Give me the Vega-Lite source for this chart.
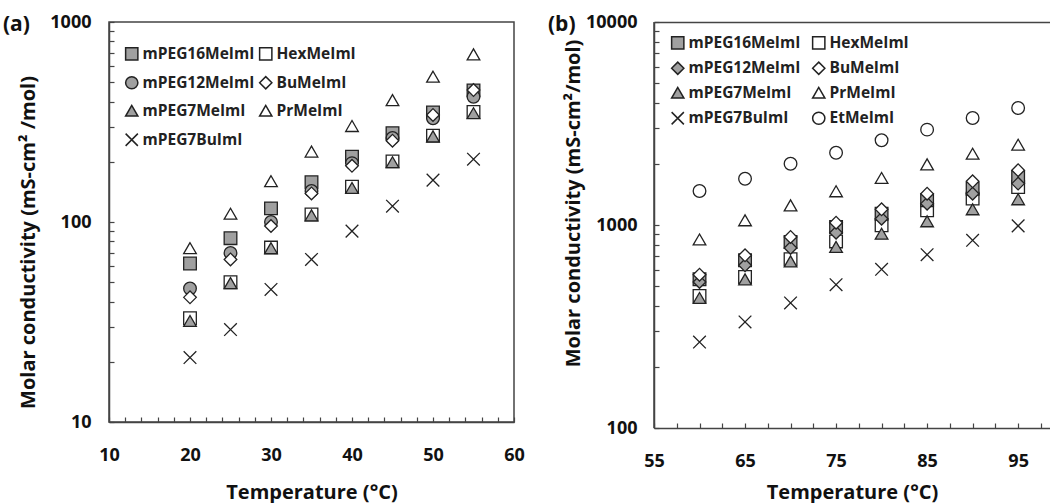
{
  "$schema": "https://vega.github.io/schema/vega-lite/v6.json",
  "padding": {"left": 2, "top": 12, "right": 0, "bottom": 0},
  "background": "white",
  "config": {
    "font": "Open Sans",
    "view": {"stroke": "#444", "strokeWidth": 1.5},
    "axis": {"labelFont": "Open Sans", "labelFontWeight": "bold", "labelFontSize": 18, "labelColor": "#111", "titleFont": "Open Sans", "titleFontWeight": "bold", "titleFontSize": 20, "titleColor": "#111", "domainColor": "#444", "domainWidth": 1.5, "tickColor": "#444", "tickWidth": 1.2, "tickSize": -5, "grid": false, "labelOverlap": false, "labelFlush": false},
    "legend": {"labelFont": "Open Sans", "labelFontWeight": "bold", "labelFontSize": 15.5, "labelColor": "#222"},
    "title": {"font": "Open Sans", "fontWeight": "bold", "fontSize": 21, "color": "#111"}
  },
  "datasets": {
    "a": [
      {"s": "HexMeImI", "T": 20, "v": 33}, {"s": "HexMeImI", "T": 25, "v": 50}, {"s": "HexMeImI", "T": 30, "v": 74.5}, {"s": "HexMeImI", "T": 35, "v": 109}, {"s": "HexMeImI", "T": 40, "v": 150}, {"s": "HexMeImI", "T": 45, "v": 201}, {"s": "HexMeImI", "T": 50, "v": 270}, {"s": "HexMeImI", "T": 55, "v": 355},
      {"s": "mPEG16MeImI", "T": 20, "v": 62}, {"s": "mPEG16MeImI", "T": 25, "v": 83}, {"s": "mPEG16MeImI", "T": 30, "v": 117}, {"s": "mPEG16MeImI", "T": 35, "v": 158}, {"s": "mPEG16MeImI", "T": 40, "v": 212}, {"s": "mPEG16MeImI", "T": 45, "v": 278}, {"s": "mPEG16MeImI", "T": 50, "v": 353}, {"s": "mPEG16MeImI", "T": 55, "v": 455},
      {"s": "mPEG12MeImI", "T": 20, "v": 46.5}, {"s": "mPEG12MeImI", "T": 25, "v": 70}, {"s": "mPEG12MeImI", "T": 30, "v": 100}, {"s": "mPEG12MeImI", "T": 35, "v": 143}, {"s": "mPEG12MeImI", "T": 40, "v": 197}, {"s": "mPEG12MeImI", "T": 45, "v": 263}, {"s": "mPEG12MeImI", "T": 50, "v": 330}, {"s": "mPEG12MeImI", "T": 55, "v": 423},
      {"s": "BuMeImI", "T": 20, "v": 42}, {"s": "BuMeImI", "T": 25, "v": 65}, {"s": "BuMeImI", "T": 30, "v": 95.5}, {"s": "BuMeImI", "T": 35, "v": 139}, {"s": "BuMeImI", "T": 40, "v": 191}, {"s": "BuMeImI", "T": 45, "v": 255}, {"s": "BuMeImI", "T": 50, "v": 343}, {"s": "BuMeImI", "T": 55, "v": 457},
      {"s": "mPEG7MeImI", "T": 20, "v": 32}, {"s": "mPEG7MeImI", "T": 25, "v": 49.5}, {"s": "mPEG7MeImI", "T": 30, "v": 74}, {"s": "mPEG7MeImI", "T": 35, "v": 108}, {"s": "mPEG7MeImI", "T": 40, "v": 148}, {"s": "mPEG7MeImI", "T": 45, "v": 199}, {"s": "mPEG7MeImI", "T": 50, "v": 268}, {"s": "mPEG7MeImI", "T": 55, "v": 350},
      {"s": "PrMeImI", "T": 20, "v": 74}, {"s": "PrMeImI", "T": 25, "v": 110}, {"s": "PrMeImI", "T": 30, "v": 160}, {"s": "PrMeImI", "T": 35, "v": 225}, {"s": "PrMeImI", "T": 40, "v": 302}, {"s": "PrMeImI", "T": 45, "v": 407}, {"s": "PrMeImI", "T": 50, "v": 533}, {"s": "PrMeImI", "T": 55, "v": 689},
      {"s": "mPEG7BuImI", "T": 20, "v": 21}, {"s": "mPEG7BuImI", "T": 25, "v": 29}, {"s": "mPEG7BuImI", "T": 30, "v": 46}, {"s": "mPEG7BuImI", "T": 35, "v": 65}, {"s": "mPEG7BuImI", "T": 40, "v": 90}, {"s": "mPEG7BuImI", "T": 45, "v": 120}, {"s": "mPEG7BuImI", "T": 50, "v": 162}, {"s": "mPEG7BuImI", "T": 55, "v": 206}
    ],
    "b": [
      {"s": "HexMeImI", "T": 60, "v": 447}, {"s": "HexMeImI", "T": 65, "v": 555}, {"s": "HexMeImI", "T": 70, "v": 678}, {"s": "HexMeImI", "T": 75, "v": 830}, {"s": "HexMeImI", "T": 80, "v": 996}, {"s": "HexMeImI", "T": 85, "v": 1181}, {"s": "HexMeImI", "T": 90, "v": 1349}, {"s": "HexMeImI", "T": 95, "v": 1538},
      {"s": "mPEG16MeImI", "T": 60, "v": 540}, {"s": "mPEG16MeImI", "T": 65, "v": 670}, {"s": "mPEG16MeImI", "T": 70, "v": 825}, {"s": "mPEG16MeImI", "T": 75, "v": 977}, {"s": "mPEG16MeImI", "T": 80, "v": 1137}, {"s": "mPEG16MeImI", "T": 85, "v": 1324}, {"s": "mPEG16MeImI", "T": 90, "v": 1510}, {"s": "mPEG16MeImI", "T": 95, "v": 1722},
      {"s": "mPEG12MeImI", "T": 60, "v": 524}, {"s": "mPEG12MeImI", "T": 65, "v": 633}, {"s": "mPEG12MeImI", "T": 70, "v": 771}, {"s": "mPEG12MeImI", "T": 75, "v": 916}, {"s": "mPEG12MeImI", "T": 80, "v": 1074}, {"s": "mPEG12MeImI", "T": 85, "v": 1274}, {"s": "mPEG12MeImI", "T": 90, "v": 1426}, {"s": "mPEG12MeImI", "T": 95, "v": 1599},
      {"s": "BuMeImI", "T": 60, "v": 569}, {"s": "BuMeImI", "T": 65, "v": 709}, {"s": "BuMeImI", "T": 70, "v": 873}, {"s": "BuMeImI", "T": 75, "v": 1026}, {"s": "BuMeImI", "T": 80, "v": 1195}, {"s": "BuMeImI", "T": 85, "v": 1426}, {"s": "BuMeImI", "T": 90, "v": 1641}, {"s": "BuMeImI", "T": 95, "v": 1862},
      {"s": "mPEG7MeImI", "T": 60, "v": 437}, {"s": "mPEG7MeImI", "T": 65, "v": 540}, {"s": "mPEG7MeImI", "T": 70, "v": 662}, {"s": "mPEG7MeImI", "T": 75, "v": 780}, {"s": "mPEG7MeImI", "T": 80, "v": 906}, {"s": "mPEG7MeImI", "T": 85, "v": 1043}, {"s": "mPEG7MeImI", "T": 90, "v": 1195}, {"s": "mPEG7MeImI", "T": 95, "v": 1339},
      {"s": "PrMeImI", "T": 60, "v": 849}, {"s": "PrMeImI", "T": 65, "v": 1055}, {"s": "PrMeImI", "T": 70, "v": 1250}, {"s": "PrMeImI", "T": 75, "v": 1466}, {"s": "PrMeImI", "T": 80, "v": 1705}, {"s": "PrMeImI", "T": 85, "v": 1990}, {"s": "PrMeImI", "T": 90, "v": 2245}, {"s": "PrMeImI", "T": 95, "v": 2487},
      {"s": "mPEG7BuImI", "T": 60, "v": 265}, {"s": "mPEG7BuImI", "T": 65, "v": 333}, {"s": "mPEG7BuImI", "T": 70, "v": 413}, {"s": "mPEG7BuImI", "T": 75, "v": 508}, {"s": "mPEG7BuImI", "T": 80, "v": 605}, {"s": "mPEG7BuImI", "T": 85, "v": 714}, {"s": "mPEG7BuImI", "T": 90, "v": 841}, {"s": "mPEG7BuImI", "T": 95, "v": 990},
      {"s": "EtMeImI", "T": 60, "v": 1470}, {"s": "EtMeImI", "T": 65, "v": 1690}, {"s": "EtMeImI", "T": 70, "v": 2004}, {"s": "EtMeImI", "T": 75, "v": 2270}, {"s": "EtMeImI", "T": 80, "v": 2614}, {"s": "EtMeImI", "T": 85, "v": 2950}, {"s": "EtMeImI", "T": 90, "v": 3365}, {"s": "EtMeImI", "T": 95, "v": 3770}
    ]
  },
  "resolve": {"scale": {"shape": "independent", "fill": "independent"}, "legend": {"shape": "independent", "fill": "independent"}},
  "spacing": 140,
  "bounds": "flush",
  "hconcat": [
    {
      "data": {"name": "a"},
      "width": 405,
      "height": 400,
      "title": {"text": "(a)", "anchor": "start", "frame": "group", "offset": 0, "dx": -106, "dy": 22},
      "mark": {"type": "point", "filled": true, "size": 160, "stroke": "#222", "strokeWidth": 1.3, "opacity": 1},
      "encoding": {
        "x": {"field": "T", "type": "quantitative", "scale": {"domain": [10, 60], "nice": false, "zero": false},
          "axis": {"title": "Temperature (°C)", "values": [10, 12, 14, 16, 18, 20, 22, 24, 26, 28, 30, 32, 34, 36, 38, 40, 42, 44, 46, 48, 50, 52, 54, 56, 58, 60], "labelExpr": "datum.value % 10 == 0 ? datum.label : ''", "labelPadding": 29.5, "titlePadding": 18}},
        "y": {"field": "v", "type": "quantitative", "scale": {"type": "log", "domain": [10, 1000], "nice": false},
          "axis": {"title": "Molar conductivity (mS-cm² /mol)", "values": [10, 20, 30, 40, 50, 60, 70, 80, 90, 100, 200, 300, 400, 500, 600, 700, 800, 900, 1000], "format": "d", "labelExpr": "datum.value == 10 || datum.value == 100 || datum.value == 1000 ? datum.label : ''", "labelPadding": 23, "titlePadding": 11, "titleY": 220}},
        "shape": {"field": "s", "type": "nominal",
          "scale": {"domain": ["mPEG16MeImI", "HexMeImI", "mPEG12MeImI", "BuMeImI", "mPEG7MeImI", "PrMeImI", "mPEG7BuImI"], "range": ["square", "square", "circle", "diamond", "triangle-up", "triangle-up", "M-1,-1L1,1M-1,1L1,-1"]},
          "legend": {"title": null, "orient": "none", "legendX": 15, "legendY": 24, "direction": "horizontal", "columns": 2, "rowPadding": 10, "columnPadding": 1, "symbolSize": 150, "labelOffset": 3, "encode": {"symbols": {"update": {"stroke": {"value": "#222"}, "strokeWidth": {"value": 1.3}}}}}},
        "fill": {"field": "s", "type": "nominal",
          "scale": {"domain": ["mPEG16MeImI", "HexMeImI", "mPEG12MeImI", "BuMeImI", "mPEG7MeImI", "PrMeImI", "mPEG7BuImI"], "range": ["#a0a0a0", "#ffffff", "#a0a0a0", "#ffffff", "#a0a0a0", "#ffffff", "transparent"]},
          "legend": {"title": null, "orient": "none", "legendX": 15, "legendY": 24, "direction": "horizontal", "columns": 2, "rowPadding": 10, "columnPadding": 1, "symbolSize": 150, "labelOffset": 3, "encode": {"symbols": {"update": {"stroke": {"value": "#222"}, "strokeWidth": {"value": 1.3}}}}}}
      }
    },
    {
      "data": {"name": "b"},
      "width": 396,
      "height": 406,
      "view": {"stroke": null},
      "title": {"text": "(b)", "anchor": "start", "frame": "group", "offset": 0, "dx": -106, "dy": 22},
      "resolve": {"axis": {"x": "independent"}},
      "layer": [
        {
          "mark": {"type": "point", "filled": true, "size": 160, "stroke": "#222", "strokeWidth": 1.3, "opacity": 1},
          "encoding": {
            "x": {"field": "T", "type": "quantitative", "scale": {"domain": [55, 98.5], "nice": false, "zero": false},
              "axis": {"orient": "bottom", "title": "Temperature (°C)", "values": [55, 57.5, 60, 62.5, 65, 67.5, 70, 72.5, 75, 77.5, 80, 82.5, 85, 87.5, 90, 92.5, 95, 97.5], "labelExpr": "(datum.value - 55) % 10 == 0 ? datum.label : ''", "labelPadding": 29.5, "titlePadding": 12}},
            "y": {"field": "v", "type": "quantitative", "scale": {"type": "log", "domain": [100, 10000], "nice": false},
              "axis": {"title": "Molar conductivity (mS-cm²/mol)", "values": [100, 200, 300, 400, 500, 600, 700, 800, 900, 1000, 2000, 3000, 4000, 5000, 6000, 7000, 8000, 9000, 10000], "format": "d", "labelExpr": "datum.value == 100 || datum.value == 1000 || datum.value == 10000 ? datum.label : ''", "labelPadding": 22, "titlePadding": 2, "titleY": 181}},
            "shape": {"field": "s", "type": "nominal",
              "scale": {"domain": ["mPEG16MeImI", "HexMeImI", "mPEG12MeImI", "BuMeImI", "mPEG7MeImI", "PrMeImI", "mPEG7BuImI", "EtMeImI"], "range": ["square", "square", "diamond", "diamond", "triangle-up", "triangle-up", "M-1,-1L1,1M-1,1L1,-1", "circle"]},
              "legend": {"title": null, "orient": "none", "legendX": 16, "legendY": 13, "direction": "horizontal", "columns": 2, "rowPadding": 6.5, "columnPadding": 8, "symbolSize": 150, "labelOffset": 3, "encode": {"symbols": {"update": {"stroke": {"value": "#222"}, "strokeWidth": {"value": 1.3}}}}}},
            "fill": {"field": "s", "type": "nominal",
              "scale": {"domain": ["mPEG16MeImI", "HexMeImI", "mPEG12MeImI", "BuMeImI", "mPEG7MeImI", "PrMeImI", "mPEG7BuImI", "EtMeImI"], "range": ["#a0a0a0", "#ffffff", "#a0a0a0", "#ffffff", "#a0a0a0", "#ffffff", "transparent", "#ffffff"]},
              "legend": {"title": null, "orient": "none", "legendX": 16, "legendY": 13, "direction": "horizontal", "columns": 2, "rowPadding": 6.5, "columnPadding": 8, "symbolSize": 150, "labelOffset": 3, "encode": {"symbols": {"update": {"stroke": {"value": "#222"}, "strokeWidth": {"value": 1.3}}}}}}
          }
        },
        {
          "data": {"values": [{}]},
          "mark": {"type": "rule", "color": "#444", "strokeWidth": 1.5},
          "encoding": {
            "x": {"datum": 55, "type": "quantitative", "axis": {"orient": "top", "labels": false, "ticks": false, "domain": true, "title": null}}
          }
        }
      ]
    }
  ]
}
